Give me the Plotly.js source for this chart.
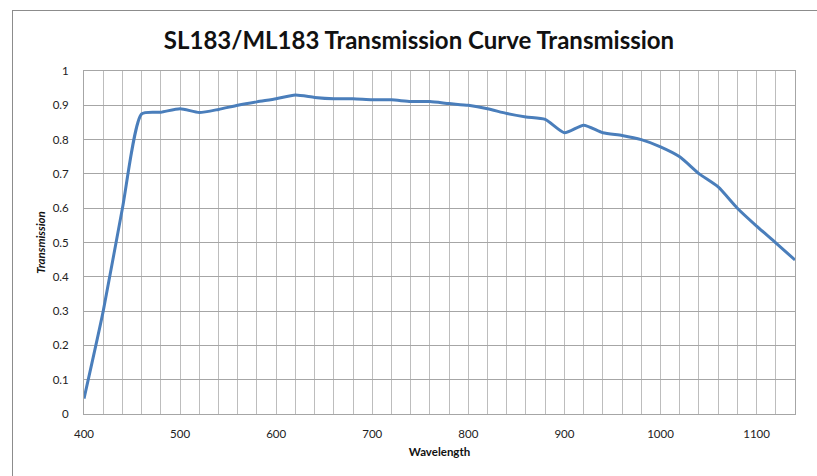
<!DOCTYPE html>
<html>
<head>
<meta charset="utf-8">
<script src="https://cdn.plot.ly/plotly-3.0.1.min.js"></script>
<style>
  html, body { margin: 0; padding: 0; background: #fff; }
  #wrap { position: relative; width: 817px; height: 476px; overflow: hidden; }
  #chart { width: 817px; height: 476px; }
  #frame { position: absolute; left: 12px; top: 10px; width: 900px; height: 600px;
           border-left: 1px solid #8c8c8c; border-top: 1px solid #8c8c8c; pointer-events: none; }
</style>
</head>
<body>
<div id="wrap">
  <div id="chart"></div>
  <div id="frame"></div>
</div>
<script>
// Wavelength (nm)
var wavelength = [400, 420, 440, 460, 480, 500, 520, 540, 560, 580, 600, 620, 640, 660, 680,
                  700, 720, 740, 760, 780, 800, 820, 840, 860, 880, 900, 920, 940, 960, 980,
                  1000, 1020, 1040, 1060, 1080, 1100, 1120, 1140];
// Transmission (fraction)
var transmission = [0.045, 0.30, 0.60, 0.875, 0.880, 0.890, 0.879, 0.888, 0.900, 0.910, 0.919, 0.930, 0.923, 0.919, 0.919,
                    0.916, 0.916, 0.911, 0.911, 0.905, 0.900, 0.890, 0.876, 0.866, 0.859, 0.820, 0.842, 0.820, 0.812, 0.800,
                    0.779, 0.750, 0.701, 0.662, 0.600, 0.548, 0.499, 0.449];
var xTickVals = [400, 500, 600, 700, 800, 900, 1000, 1100];
var yTickVals = [0, 0.1, 0.2, 0.3, 0.4, 0.5, 0.6, 0.7, 0.8, 0.9, 1];
var yTickText = ['0', '0.1', '0.2', '0.3', '0.4', '0.5', '0.6', '0.7', '0.8', '0.9', '1'];

var FONT = 'Lato, "Open Sans", "DejaVu Sans", sans-serif';

var trace = {
  x: wavelength,
  y: transmission,
  type: 'scatter',
  mode: 'lines',
  line: { color: '#4a7ebb', width: 3, shape: 'spline', smoothing: 0.6 },
  hoverinfo: 'x+y'
};

var layout = {
  width: 817,
  height: 476,
  paper_bgcolor: '#ffffff',
  plot_bgcolor: '#ffffff',
  margin: { l: 84, r: 22, t: 71, b: 62 },
  showlegend: false,
  font: { family: FONT, color: '#222' },
  title: {
    text: '<b>SL183/ML183 Transmission Curve Transmission</b>',
    font: { family: FONT, size: 24, color: '#111' },
    x: 419 / 817, xref: 'container', xanchor: 'center',
    y: 1 - 41 / 476, yref: 'container', yanchor: 'middle'
  },
  xaxis: {
    range: [400, 1140],
    tickmode: 'array',
    tickvals: xTickVals,
    ticks: '',
    ticklabelstandoff: 9,
    tickfont: { family: FONT, size: 11.5, color: '#222' },
    showgrid: true,
    gridcolor: '#bdbdbd',
    gridwidth: 1,
    minor: { dtick: 20, tick0: 400, showgrid: true, gridcolor: '#bdbdbd', gridwidth: 1, ticks: '' },
    showline: true, linecolor: '#a6a6a6', linewidth: 1, mirror: true,
    zeroline: false,
    fixedrange: true,
    title: { text: '<b>Wavelength</b>', font: { family: FONT, size: 11.5, color: '#111' }, standoff: 9 }
  },
  yaxis: {
    range: [0, 1],
    tickmode: 'array',
    tickvals: yTickVals,
    ticktext: yTickText,
    ticks: '',
    ticklabelstandoff: 12,
    tickfont: { family: FONT, size: 11.5, color: '#222' },
    showgrid: true,
    gridcolor: '#a6a6a6',
    gridwidth: 1,
    showline: true, linecolor: '#a6a6a6', linewidth: 1, mirror: true,
    zeroline: false,
    fixedrange: true,
    title: { text: '<b><i>Transmission</i></b>', font: { family: FONT, size: 11.5, color: '#111' }, standoff: 4 }
  }
};

Plotly.newPlot('chart', [trace], layout, { displayModeBar: false, staticPlot: true });
</script>
</body>
</html>
